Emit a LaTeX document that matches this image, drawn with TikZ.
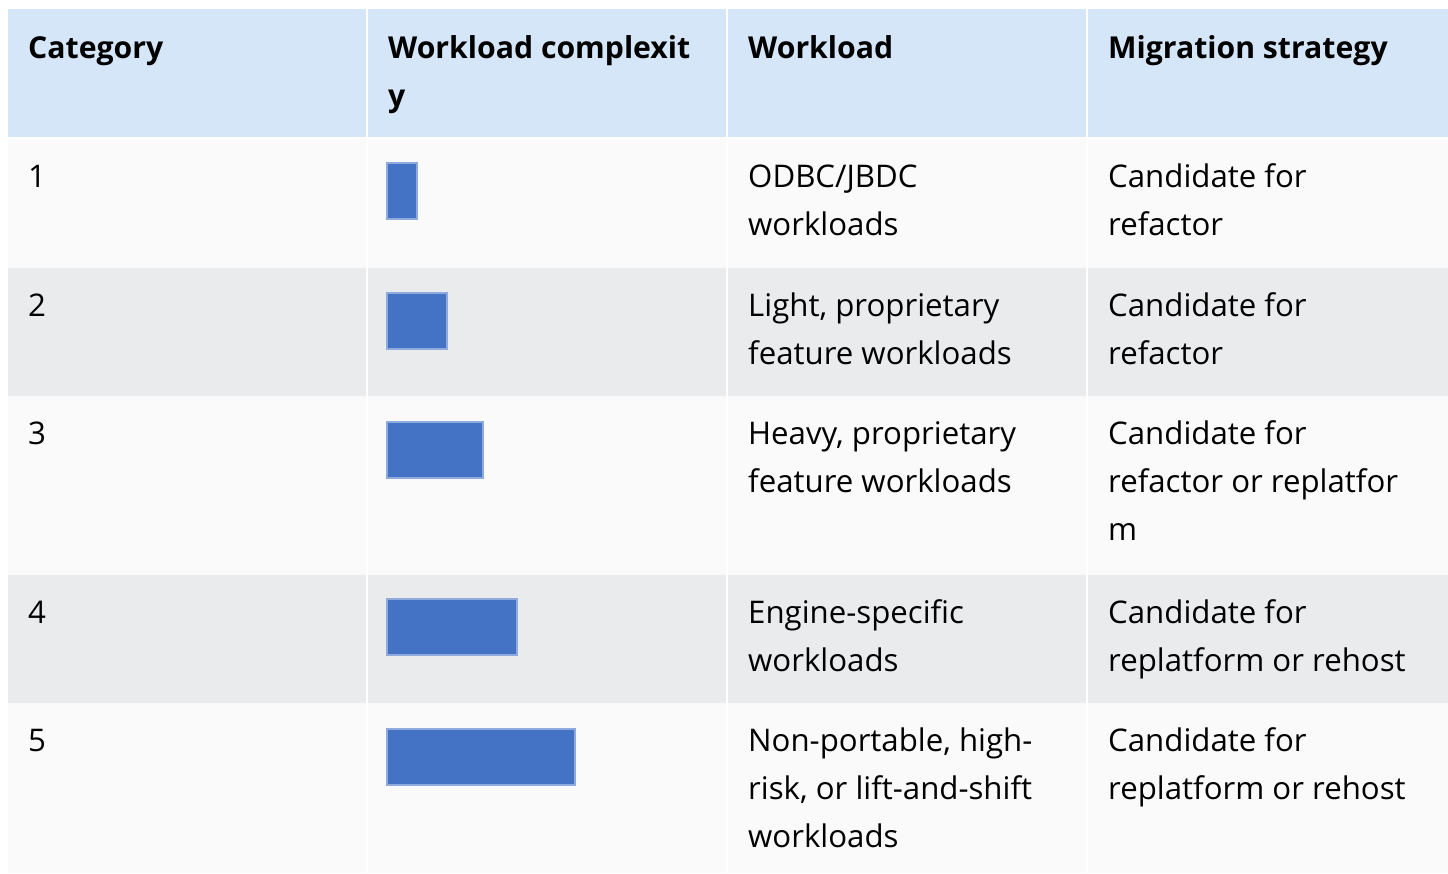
\documentclass[tikz,border=0pt]{standalone}
\usepackage{fontspec}
\setmainfont{Open Sans}
\definecolor{hdr}{RGB}{212,230,247}
\definecolor{rowlight}{RGB}{250,250,250}
\definecolor{rowgrey}{RGB}{233,235,237}
\definecolor{barfill}{RGB}{68,114,196}
\definecolor{barline}{RGB}{143,170,220}
\tikzset{
  celltext/.style={anchor=base west, inner sep=0pt, align=left, font=\fontsize{31.2}{48}\selectfont},
  headtext/.style={celltext, font=\fontsize{30.2}{48}\selectfont\bfseries},
  bar/.style={fill=barfill, draw=barline, line width=1.5pt},
  sep/.style={draw=white, line width=2pt}
}
\begin{document}
\begin{tikzpicture}[x=1pt,y=-1pt]
\useasboundingbox (0,0) rectangle (1448,873);
\fill[white] (0,0) rectangle (1448,873);
% row backgrounds
\fill[hdr] (8,9) rectangle (1448,137);
\fill[rowlight] (8,139) rectangle (1448,268);
\fill[rowgrey] (8,268) rectangle (1448,396);
\fill[rowlight] (8,396) rectangle (1448,575);
\fill[rowgrey] (8,575) rectangle (1448,703);
\fill[rowlight] (8,703) rectangle (1448,873);
% column separators
\coordinate (s1t) at (367,9); \coordinate (s1b) at (367,873);
\coordinate (s2t) at (727,9); \coordinate (s2b) at (727,873);
\coordinate (s3t) at (1087,9); \coordinate (s3b) at (1087,873);
\draw[sep] (s1t) -- (s1b);
\draw[sep] (s2t) -- (s2b);
\draw[sep] (s3t) -- (s3b);
% header (node placed at the baseline of its last line)
\node[headtext] (h1) at (28,58) {Category};
\node[headtext] (h2) at (388,106) {Workload complexit\\y};
\node[headtext] (h3) at (748,58) {Workload};
\node[headtext] (h4) at (1108,58) {Migration strategy};
% row 1
\node[celltext] (c1) at (28,187) {1};
\path[bar] (387,163) rectangle (417,219);
\node[celltext] (w1) at (748,235) {ODBC/JBDC\\workloads};
\node[celltext] (m1) at (1108,235) {Candidate for\\refactor};
% row 2
\node[celltext] (c2) at (28,316) {2};
\path[bar] (387,293) rectangle (447,349);
\node[celltext] (w2) at (748,364) {Light, proprietary\\feature workloads};
\node[celltext] (m2) at (1108,364) {Candidate for\\refactor};
% row 3
\node[celltext] (c3) at (28,444) {3};
\path[bar] (387,422) rectangle (483,478);
\node[celltext] (w3) at (748,492) {Heavy, proprietary\\feature workloads};
\node[celltext] (m3) at (1108,540) {Candidate for\\refactor or replatfor\\m};
% row 4
\node[celltext] (c4) at (28,623) {4};
\path[bar] (387,599) rectangle (517,655);
\node[celltext] (w4) at (748,671) {Engine-specific\\workloads};
\node[celltext] (m4) at (1108,671) {Candidate for\\replatform or rehost};
% row 5
\node[celltext] (c5) at (28,751) {5};
\path[bar] (387,729) rectangle (575,785);
\node[celltext] (w5) at (748,847) {Non-portable, high-\\risk, or lift-and-shift\\workloads};
\node[celltext] (m5) at (1108,799) {Candidate for\\replatform or rehost};
\end{tikzpicture}
\end{document}
